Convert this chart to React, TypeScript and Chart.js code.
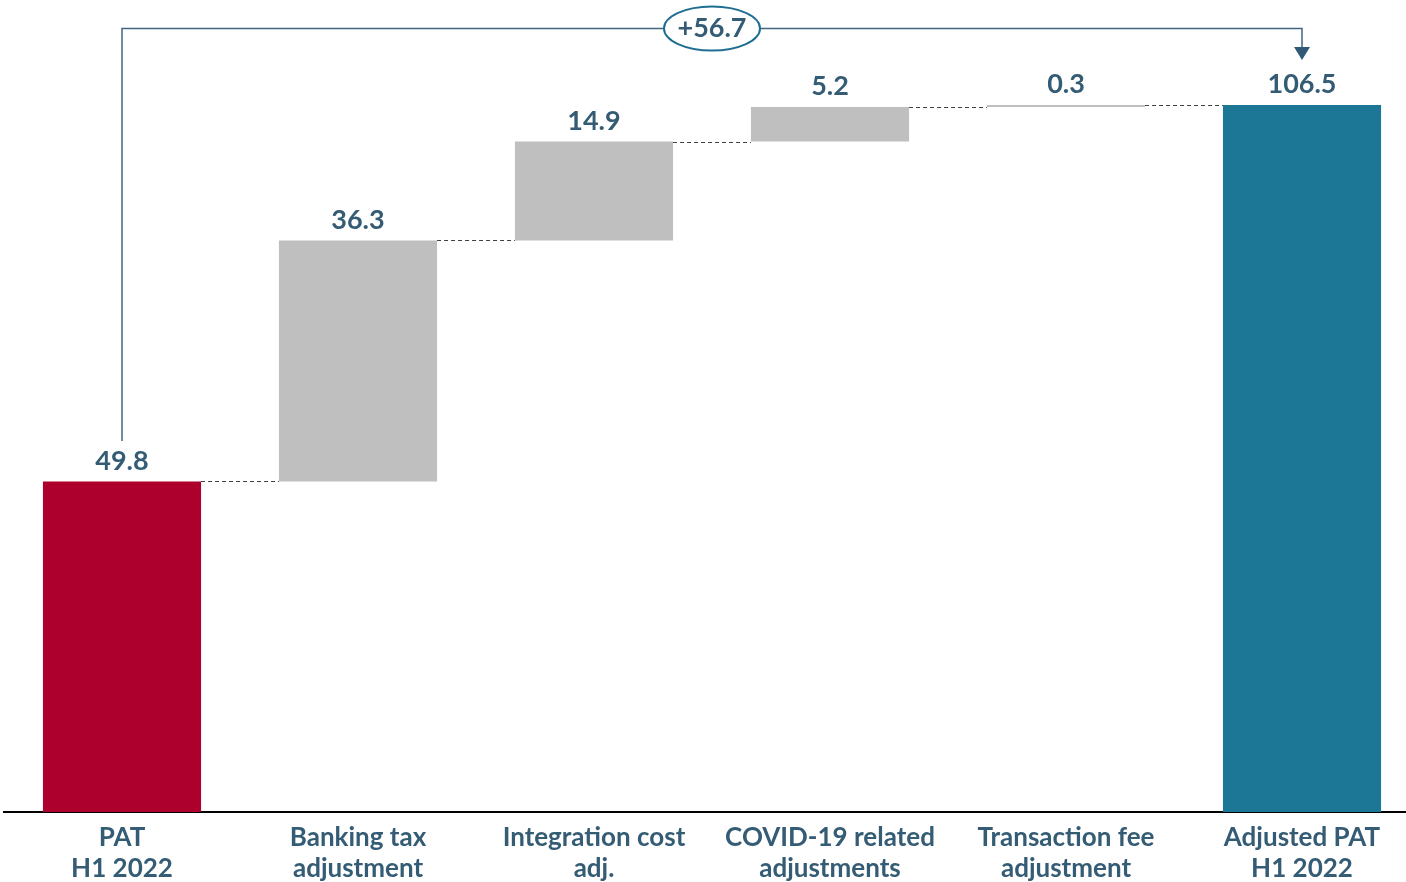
import React, { useEffect, useRef } from "react";
import { Chart, registerables } from "chart.js";

Chart.register(...registerables);

// Bridge from reported PAT to adjusted PAT (H1 2022)
const categories: string[][] = [
  ["PAT", "H1 2022"],
  ["Banking tax", "adjustment"],
  ["Integration cost", "adj."],
  ["COVID-19 related", "adjustments"],
  ["Transaction fee", "adjustment"],
  ["Adjusted PAT", "H1 2022"],
];
const startValue = 49.8;
const adjustments = [36.3, 14.9, 5.2, 0.3];
const endValue = 106.5;
const totalChangeLabel = "+56.7";
const valueLabels = ["49.8", "36.3", "14.9", "5.2", "0.3", "106.5"];

const RED = "#ae002c";
const GREY = "#bfbfbf";
const TEAL = "#1b7795";
const TEXT = "#355c75";
const FONT = "Lato, 'Open Sans', sans-serif";

// floating ranges for the waterfall
function buildRanges(): [number, number][] {
  const ranges: [number, number][] = [[0, startValue]];
  let running = startValue;
  for (const a of adjustments) {
    ranges.push([running, running + a]);
    running += a;
  }
  ranges.push([0, endValue]);
  return ranges;
}

const overlayPlugin = {
  id: "waterfallOverlay",
  afterDatasetsDraw(chart: any) {
    const ctx = chart.ctx;
    const meta = chart.getDatasetMeta(0);
    const ranges = buildRanges();
    const yScale = chart.scales.y;
    const area = chart.chartArea;
    const bars = meta.data;

    ctx.save();
    // dashed connectors between bar tops
    ctx.strokeStyle = "#404040";
    ctx.lineWidth = 1;
    ctx.setLineDash([4, 3]);
    for (let i = 0; i < bars.length - 1; i++) {
      const top = yScale.getPixelForValue(ranges[i][1]);
      const y = Math.round(top) + 0.5;
      const x1 = bars[i].x + bars[i].width / 2;
      const x2 = bars[i + 1].x - bars[i + 1].width / 2;
      ctx.beginPath();
      ctx.moveTo(x1, y);
      ctx.lineTo(x2, y);
      ctx.stroke();
    }
    ctx.setLineDash([]);

    // value labels
    ctx.fillStyle = TEXT;
    ctx.font = `bold 27px ${FONT}`;
    ctx.textAlign = "center";
    ctx.textBaseline = "middle";
    const labelTops: number[] = [];
    bars.forEach((bar: any, i: number) => {
      const top = yScale.getPixelForValue(Math.max(ranges[i][0], ranges[i][1]));
      const cy = top - 20.5;
      ctx.fillText(valueLabels[i], bar.x, cy);
      labelTops.push(cy - 14);
    });

    // total change bracket
    const first = bars[0];
    const last = bars[bars.length - 1];
    const bracketY = area.top + 28.5;
    ctx.strokeStyle = "#3f6585";
    ctx.lineWidth = 1.5;
    ctx.beginPath();
    ctx.moveTo(first.x, labelTops[0] - 6);
    ctx.lineTo(first.x, bracketY);
    ctx.lineTo(last.x, bracketY);
    ctx.lineTo(last.x, area.top + 48);
    ctx.stroke();
    ctx.fillStyle = "#2f5a75";
    ctx.beginPath();
    ctx.moveTo(last.x - 8, area.top + 47);
    ctx.lineTo(last.x + 8, area.top + 47);
    ctx.lineTo(last.x, area.top + 60);
    ctx.closePath();
    ctx.fill();

    // ellipse with the total change
    const cx = (first.x + last.x) / 2;
    ctx.fillStyle = "#ffffff";
    ctx.strokeStyle = "#1f6f92";
    ctx.lineWidth = 2;
    ctx.beginPath();
    ctx.ellipse(cx, bracketY, 48, 22, 0, 0, Math.PI * 2);
    ctx.fill();
    ctx.stroke();
    ctx.fillStyle = TEXT;
    ctx.font = `bold 27px ${FONT}`;
    ctx.fillText(totalChangeLabel, cx, bracketY);
    ctx.restore();
  },
};

export default function App() {
  const canvasRef = useRef<HTMLCanvasElement | null>(null);

  useEffect(() => {
    if (!canvasRef.current) return;
    const ranges = buildRanges();
    const colors = ranges.map((_, i) =>
      i === 0 ? RED : i === ranges.length - 1 ? TEAL : GREY
    );
    const chart = new Chart(canvasRef.current, {
      type: "bar",
      data: {
        labels: categories,
        datasets: [
          {
            data: ranges,
            backgroundColor: colors,
            borderWidth: 0,
            borderSkipped: false,
            categoryPercentage: 1,
            barPercentage: 0.67,
          },
        ],
      },
      options: {
        animation: false,
        responsive: false,
        maintainAspectRatio: false,
        layout: { padding: { left: 4, right: 4, top: 0, bottom: 0 } },
        plugins: {
          legend: { display: false },
          tooltip: { enabled: false },
        },
        scales: {
          x: {
            grid: { display: false, drawTicks: false },
            border: { display: true, color: "#000000", width: 2 },
            ticks: {
              color: TEXT,
              padding: 10,
              maxRotation: 0,
              autoSkip: false,
              font: { family: FONT, size: 26, weight: "bold", lineHeight: 1.2 },
            },
            afterFit(scale: any) {
              scale.height = 70;
            },
          },
          y: {
            display: false,
            min: 0,
            max: 122.32,
          },
        },
      },
      plugins: [overlayPlugin],
    } as any);
    return () => chart.destroy();
  }, []);

  return (
    <div
      style={{
        position: "fixed",
        left: 0,
        top: 0,
        width: 1406,
        height: 882,
        overflow: "hidden",
        background: "#ffffff",
      }}
    >
      <canvas
        ref={canvasRef}
        width={1424}
        height={882}
        style={{ width: 1424, height: 882, display: "block" }}
      />
    </div>
  );
}
